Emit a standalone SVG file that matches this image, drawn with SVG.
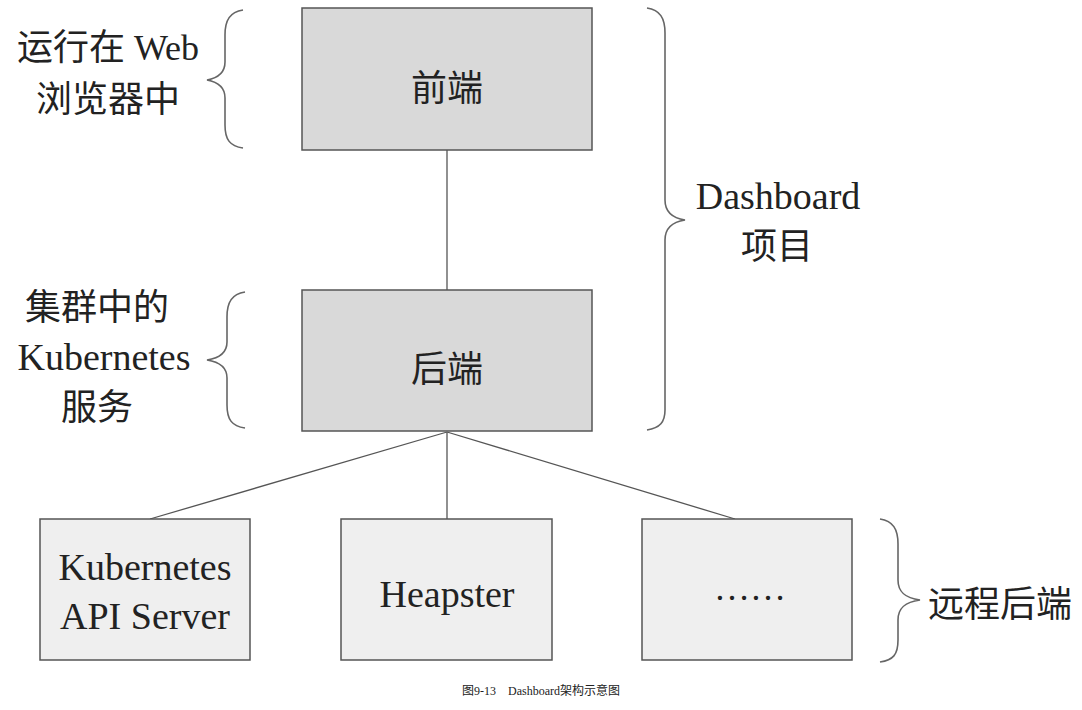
<svg xmlns="http://www.w3.org/2000/svg" width="1082" height="710" viewBox="0 0 1082 710">
<style>
.t{font-family:"Liberation Serif","Noto Sans CJK SC",serif;font-size:36px;fill:#222;text-anchor:middle}
.l{font-size:38px}
.c{font-family:"Liberation Serif","Noto Sans CJK SC",serif;font-size:12px;fill:#222;text-anchor:middle}
.dk{fill:#d9d9d9;stroke:#555;stroke-width:1.5}
.lt{fill:#efefef;stroke:#555;stroke-width:1.5}
.ln{stroke:#555;stroke-width:1.3;fill:none}
.br{stroke:#666;stroke-width:1.6;fill:none}
</style>
<rect width="1082" height="710" fill="#fff"/>
<g id="connectors">
<line class="ln" x1="447" y1="150" x2="447" y2="290"/>
<line class="ln" x1="447" y1="432" x2="150" y2="519"/>
<line class="ln" x1="447" y1="432" x2="447" y2="519"/>
<line class="ln" x1="447" y1="432" x2="735" y2="519"/>
</g>
<g id="frontend"><rect class="dk" x="302" y="8" width="290" height="142"/><text class="t" x="447" y="101">前端</text></g>
<g id="backend"><rect class="dk" x="302" y="290" width="290" height="141"/><text class="t" x="447" y="382">后端</text></g>
<g id="apiserver"><rect class="lt" x="40" y="519" width="210" height="141"/><text class="t l" x="145" y="580">Kubernetes</text><text class="t l" x="145" y="629">API Server</text></g>
<g id="heapster"><rect class="lt" x="341" y="519" width="211" height="141"/><text class="t l" x="447" y="607">Heapster</text></g>
<g id="more"><rect class="lt" x="642" y="519" width="210" height="141"/><text class="t" x="750" y="600">……</text></g>
<g id="brace-browser">
<path class="br" d="M243,10 C230,12 225,20 225,35 L225,62 C225,72 218,78 207,80 C218,82 225,88 225,98 L225,125 C225,140 230,146 243,148"/>
<text class="t" x="108" y="60">运行在 Web</text><text class="t" x="108" y="112">浏览器中</text>
</g>
<g id="brace-dashboard">
<path class="br" d="M647,8 C660,10 665,18 665,33 L665,200 C665,212 672,218 685,220 C672,222 665,228 665,240 L665,410 C665,422 660,428 647,430"/>
<text class="t l" x="778" y="209">Dashboard</text><text class="t" x="777" y="259">项目</text>
</g>
<g id="brace-k8s">
<path class="br" d="M245,292 C232,294 227,302 227,317 L227,342 C227,352 220,358 207,360 C220,362 227,368 227,378 L227,405 C227,420 232,426 245,428"/>
<text class="t" x="97" y="320">集群中的</text><text class="t l" x="104" y="370">Kubernetes</text><text class="t" x="97" y="420">服务</text>
</g>
<g id="brace-remote">
<path class="br" d="M880,519 C893,521 898,529 898,544 L898,580 C898,592 905,598 920,600 C905,602 898,608 898,620 L898,640 C898,655 893,660 880,662"/>
<text class="t" x="1000" y="617">远程后端</text>
</g>
<text class="c" x="541" y="695">图9-13　Dashboard架构示意图</text>
</svg>
